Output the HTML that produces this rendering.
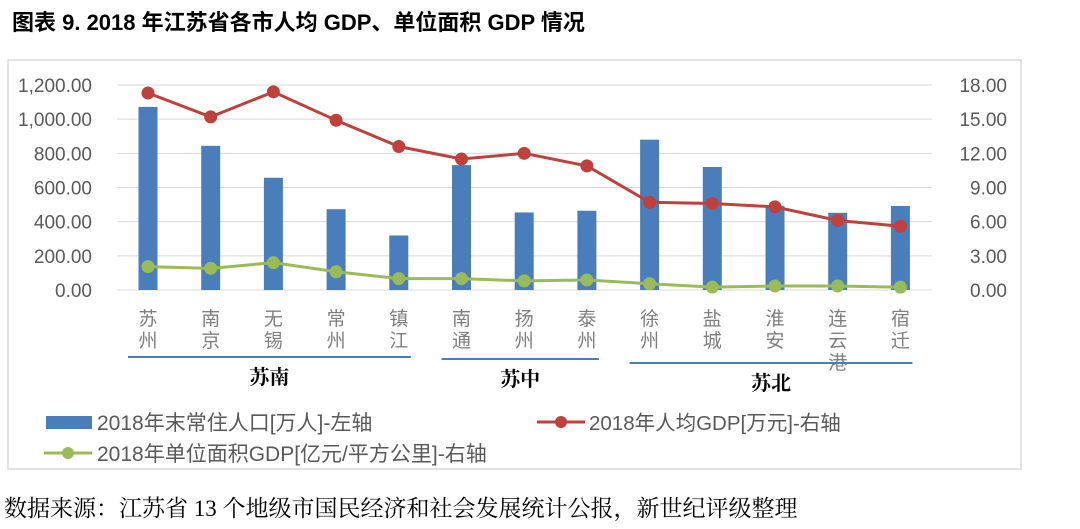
<!DOCTYPE html>
<html><head><meta charset="utf-8"><style>
body{margin:0;width:1080px;height:529px;background:#fff;overflow:hidden;font-family:"Liberation Sans","Noto Sans CJK SC",sans-serif}
#title{position:absolute;left:12px;top:5px;font-size:22px;font-weight:bold;color:#000;font-family:"Liberation Sans","Noto Sans CJK SC",sans-serif;white-space:nowrap}
#src{position:absolute;left:4px;top:490px;font-size:23px;color:#000;font-family:"Liberation Serif","Noto Serif CJK SC",serif;white-space:nowrap}
svg{position:absolute;left:0;top:0}
</style></head><body>
<div id="title">图表 9. 2018 年江苏省各市人均 GDP、单位面积 GDP 情况</div>
<svg id="c" width="1080" height="529"></svg>
<div id="src">数据来源：江苏省 13 个地级市国民经济和社会发展统计公报，新世纪评级整理</div>
<script>
const cities=["苏州","南京","无锡","常州","镇江","南通","扬州","泰州","徐州","盐城","淮安","连云港","宿迁"];
const population=[1072,844,657,473,319,731,454,464,880,720,493,452,492];
const gdpPerCapita=[17.3,15.2,17.4,14.9,12.6,11.5,12.0,10.9,7.7,7.6,7.3,6.1,5.6];
const gdpPerArea=[2.05,1.9,2.4,1.6,1.0,1.0,0.8,0.88,0.55,0.25,0.35,0.35,0.25];
const leftTicks=["0.00","200.00","400.00","600.00","800.00","1,000.00","1,200.00"];
const rightTicks=["0.00","3.00","6.00","9.00","12.00","15.00","18.00"];
const groups=[{name:"苏南",from:0,to:4},{name:"苏中",from:5,to:7},{name:"苏北",from:8,to:12}];
const NS="http://www.w3.org/2000/svg";
const svg=document.getElementById('c');
function mk(t,a,txt){const e=document.createElementNS(NS,t);for(const k in a)e.setAttribute(k,a[k]);if(txt!=null)e.textContent=txt;svg.appendChild(e);return e;}
const y0=290,y1=85,x0=117,step=62.7;
const yL=v=>y0-(v/1200)*(y0-y1);
const yR=v=>y0-(v/18)*(y0-y1);
const xC=i=>148+i*step;
let f=mk('rect',{x:8,y:60,width:1013,height:409,fill:'none',stroke:'#d9d9d9','stroke-width':1.5});

leftTicks.forEach((t,i)=>{const y=yL(i*200);
 let g=mk('line',{x1:x0,x2:932,y1:y,y2:y,stroke:'#d9d9d9','stroke-width':1});
 
 let l=mk('text',{x:92,y:y+7,'text-anchor':'end','font-size':19,fill:'#595959'},t);
 
 let r=mk('text',{x:1007,y:y+7,'text-anchor':'end','font-size':19,fill:'#595959'},rightTicks[i]);
 
});
population.forEach((v,i)=>{let b=mk('rect',{x:xC(i)-9.5,y:yL(v),width:19,height:y0-yL(v),fill:'#4a7ebb'});
 });
function line(vals,color,name){
 let p=mk('polyline',{points:vals.map((v,i)=>xC(i)+','+yR(v)).join(' '),fill:'none',stroke:color,'stroke-width':3});
 
 vals.forEach((v,i)=>{let c=mk('circle',{cx:xC(i),cy:yR(v),r:6.5,fill:color});
  });
}
line(gdpPerCapita,'#c0403d','gdp-per-capita');
line(gdpPerArea,'#9bbb59','gdp-per-area');
cities.forEach((c,i)=>{[...c].forEach((ch,j)=>{let t=mk('text',{x:xC(i),y:325+j*22,'text-anchor':'middle','font-size':19,fill:'#7f7f7f','font-family':'"Noto Sans CJK SC",sans-serif'},ch);
 });});
const gy=[357,359,363];
groups.forEach((g,k)=>{const a=xC(g.from)-20,b=xC(g.to)+12;
 let l=mk('line',{x1:a,x2:b,y1:gy[k],y2:gy[k],stroke:'#4a7ebb','stroke-width':2});
 
 let t=mk('text',{x:(a+b)/2,y:gy[k]+27,'text-anchor':'middle','font-size':20,'font-weight':'bold',fill:'#000','font-family':'"Noto Serif CJK SC",serif'},g.name);
 });
let lb=mk('rect',{x:46,y:416,width:46,height:13,fill:'#4a7ebb'});
let t1=mk('text',{x:97,y:430,'font-size':21,fill:'#595959'},'2018年末常住人口[万人]-左轴');
let lr=mk('line',{x1:537,x2:585,y1:422,y2:422,stroke:'#c0403d','stroke-width':3});
let cr=mk('circle',{cx:561,cy:422,r:6,fill:'#c0403d'});
let t2=mk('text',{x:589,y:430,'font-size':20.5,fill:'#595959'},'2018年人均GDP[万元]-右轴');
let lg=mk('line',{x1:44,x2:92,y1:453,y2:453,stroke:'#9bbb59','stroke-width':3});
let cg=mk('circle',{cx:68,cy:453,r:6,fill:'#9bbb59'});
let t3=mk('text',{x:97,y:461,'font-size':21,fill:'#595959'},'2018年单位面积GDP[亿元/平方公里]-右轴');
</script>
</body></html>
